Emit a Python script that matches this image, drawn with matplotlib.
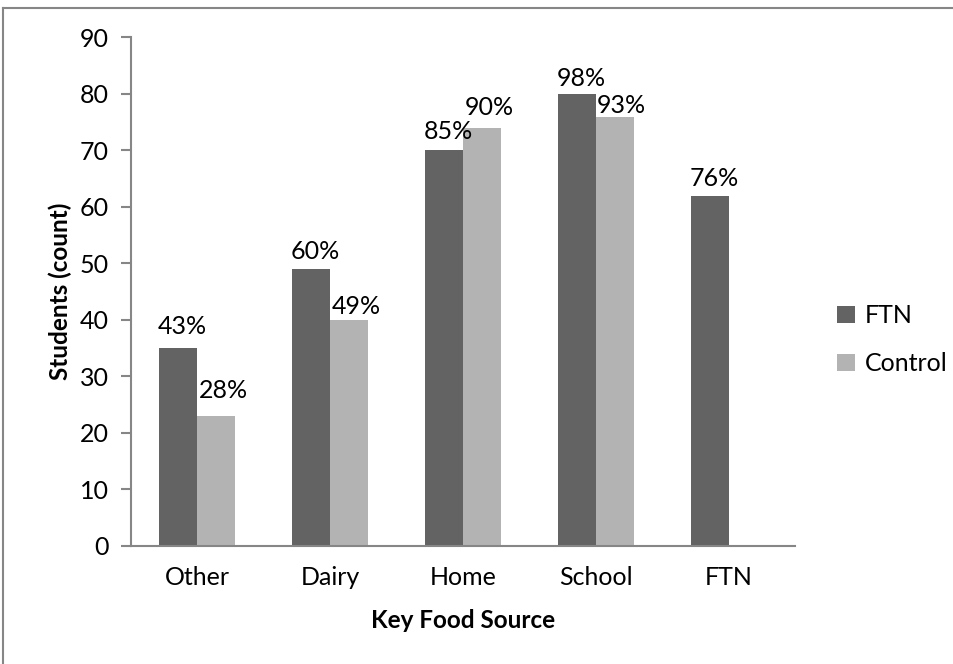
import matplotlib
matplotlib.use("Agg")
import matplotlib.pyplot as plt
import numpy as np
from matplotlib.lines import Line2D

plt.rcParams['font.family'] = ['Lato', 'DejaVu Sans']

categories = ["Other", "Dairy", "Home", "School", "FTN"]
ftn_counts = [35, 49, 70, 80, 62]
control_counts = [23, 40, 74, 76, None]
ftn_labels = ["43%", "60%", "85%", "98%", "76%"]
control_labels = ["28%", "49%", "90%", "93%", None]
y_ticks = [0, 10, 20, 30, 40, 50, 60, 70, 80, 90]

# extra lift (points) for each value label above its bar
ftn_label_lift = [7, 4, 5, 3, 4]
control_label_lift = [10, 1, 6, 0, 0]

dark = "#636363"
light = "#b3b3b3"
axis_grey = "#868686"

W, H = 954, 664
fig = plt.figure(figsize=(W / 100, H / 100), dpi=100)

# chart area outline (top and left edges)
fig.add_artist(Line2D([3 / W, 1.0], [1 - 8 / H, 1 - 8 / H], color=axis_grey, lw=1.5,
                      transform=fig.transFigure))
fig.add_artist(Line2D([3 / W, 3 / W], [1 - 8 / H, 0.0], color=axis_grey, lw=1.5,
                      transform=fig.transFigure))

left, right = 131 / W, 795 / W
top, bottom = 1 - 37.5 / H, 1 - 545.5 / H
ax = fig.add_axes([left, bottom, right - left, top - bottom])

x = np.arange(len(categories))
w = 0.286

ax.bar(x - w / 2, ftn_counts, width=w, color=dark, label="FTN", zorder=2)
cx = [xi + w / 2 for xi, v in zip(x, control_counts) if v is not None]
cv = [v for v in control_counts if v is not None]
ax.bar(cx, cv, width=w, color=light, label="Control", zorder=2)

for xi, v, lab, lift in zip(x, ftn_counts, ftn_labels, ftn_label_lift):
    ax.annotate(lab, (xi - w / 2, v), xytext=(3, lift), textcoords="offset points",
                ha="center", va="bottom", fontsize=18, color="black")
for xi, v, lab, lift in zip(x, control_counts, control_labels, control_label_lift):
    if v is None:
        continue
    ax.annotate(lab, (xi + w / 2, v), xytext=(5, lift), textcoords="offset points",
                ha="center", va="bottom", fontsize=18, color="black")

ax.set_xlim(-0.5, len(categories) - 0.5)
ax.set_ylim(0, 90)
ax.set_yticks(y_ticks)
ax.set_xticks(x)
ax.set_xticklabels(categories)

for s in ["top", "right"]:
    ax.spines[s].set_visible(False)
for s in ["left", "bottom"]:
    ax.spines[s].set_color(axis_grey)
    ax.spines[s].set_linewidth(1.5)

ax.tick_params(axis="y", direction="out", length=7, width=1.5, color=axis_grey,
               labelsize=18, pad=9)
ax.tick_params(axis="x", length=0, labelsize=18, pad=15)

ax.set_ylabel("Students (count)", fontsize=17.5, fontweight="bold", va="center")
ax.yaxis.set_label_coords((60 - 131) / (795 - 131), 0.5)
ax.set_xlabel("Key Food Source", fontsize=17.5, fontweight="bold", va="center")
ax.xaxis.set_label_coords(0.5, -(620 - 545.5) / (545.5 - 37.5))

ax.legend(loc="center left", bbox_to_anchor=(1.03, 0.405), frameon=False,
          fontsize=18, handlelength=0.7, handleheight=0.7, handletextpad=0.4,
          labelspacing=1.0)

fig.savefig("out.png", dpi=100)
